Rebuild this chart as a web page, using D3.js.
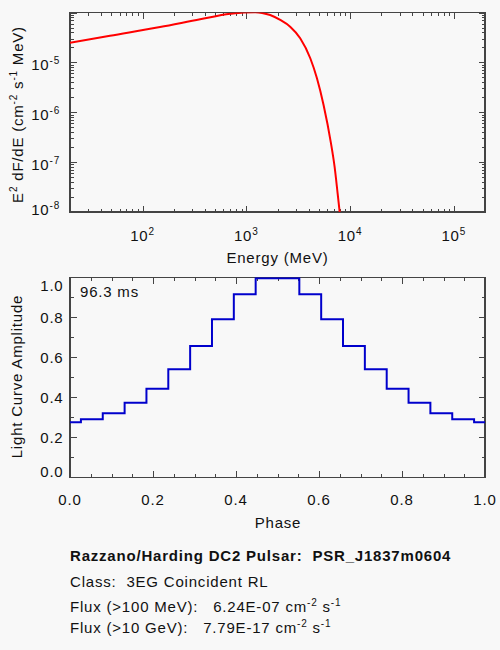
<!DOCTYPE html>
<html>
<head>
<meta charset="utf-8">
<script src="https://cdn.jsdelivr.net/npm/d3@7"></script>
<style>
  body { margin: 0; background: #f8f8f8; }
  svg { display: block; font-family: "Liberation Sans", Arial, Helvetica, sans-serif; }
  text { fill: #111; letter-spacing: 0.8px; white-space: pre; }
  .axis line { stroke: #444; }
</style>
</head>
<body>
<svg id="chart" width="500" height="650"></svg>
<script>
// spectrum (MeV, MeV cm^-2 s^-1)
var energy = [20, 48.6, 147.6, 359, 700, 950, 1220, 1420, 1700, 2125, 2650, 3310, 4140, 4800, 5560, 6550, 7100, 7590, 7950];
var e2flux = [2.48e-5, 3.43e-5, 5.1e-5, 7.3e-5, 9.4e-5, 1.0e-4, 1.01e-4, 9.8e-5, 8.9e-5, 7.08e-5, 5.19e-5,
              3.04e-5, 1.21e-5, 4.8e-6, 1.4e-6, 2.4e-7, 8.1e-8, 2.4e-8, 1.0e-8];

// light curve bins
var phase = [0, 0.0526, 0.1053, 0.1579, 0.2105, 0.2632, 0.3158, 0.3684, 0.4211, 0.4737,
             0.5263, 0.5789, 0.6316, 0.6842, 0.7368, 0.7895, 0.8421, 0.8947, 0.9474, 1.0];
var amplitude = [0.275, 0.29, 0.32, 0.373, 0.443, 0.54, 0.657, 0.79, 0.915, 0.995,
                 0.995, 0.915, 0.79, 0.657, 0.54, 0.443, 0.373, 0.32, 0.29, 0.275];

var energyLabels = [1e2, 1e3, 1e4, 1e5];
var fluxLabels = [1e-5, 1e-6, 1e-7, 1e-8];
var phaseTicks = [0, 0.2, 0.4, 0.6, 0.8, 1.0];
var ampTicks = [0, 0.2, 0.4, 0.6, 0.8, 1.0];

var period = "96.3 ms";
var title = "Razzano/Harding DC2 Pulsar:  PSR_J1837m0604";
var className = "Class:  3EG Coincident RL";
var flux100 = "6.24E-07";
var flux10g = "7.79E-17";

var svg = d3.select("#chart");

var x1 = d3.scaleLog().domain([20, 2e5]).range([70, 485]);
var y1 = d3.scaleLog().domain([1e-8, 1e-4]).range([212, 12.5]);
var x2 = d3.scaleLinear().domain([0, 1]).range([70, 485]);
var y2 = d3.scaleLinear().domain([0, 1]).range([477.3, 277.3]);

var MAJ = 6.5, MIN = 3.5;

// ticks on all four sides, pointing inwards
function frame(x, y, majX, minX, majY, minY) {
  var xr = x.range(), yr = y.range();
  var g = svg.append("g").attr("class", "axis").style("shape-rendering", "crispEdges");
  function side(axis, t, vals, size) {
    g.append("g").attr("transform", t)
      .call(axis.tickValues(vals).tickSize(-size).tickFormat(""))
      .call(a => a.select(".domain").remove());
  }
  [[minX, MIN], [majX, MAJ]].forEach(function(p) {
    side(d3.axisBottom(x), `translate(0,${yr[0]})`, p[0], p[1]);
    side(d3.axisTop(x), `translate(0,${yr[1]})`, p[0], p[1]);
  });
  [[minY, MIN], [majY, MAJ]].forEach(function(p) {
    side(d3.axisLeft(y), `translate(${xr[0]},0)`, p[0], p[1]);
    side(d3.axisRight(y), `translate(${xr[1]},0)`, p[0], p[1]);
  });
  g.append("rect")
    .attr("x", xr[0]).attr("y", yr[1])
    .attr("width", xr[1] - xr[0]).attr("height", yr[0] - yr[1])
    .attr("fill", "none").attr("stroke", "#444").attr("stroke-width", 1.2);
}

function clip(id, x, y) {
  svg.append("clipPath").attr("id", id).append("rect")
    .attr("x", x.range()[0]).attr("y", y.range()[1])
    .attr("width", x.range()[1] - x.range()[0])
    .attr("height", y.range()[0] - y.range()[1]);
}

// text with superscripts: parts = [[string, isSup], ...]
function rich(sel, parts, size) {
  var up = false;
  parts.forEach(function(p) {
    var t = sel.append("tspan").text(p[0]);
    if (p[1] && !up) { t.attr("dy", -6).attr("font-size", 10); up = true; }
    else if (p[1]) { t.attr("font-size", 10); }
    else if (up) { t.attr("dy", 6); up = false; }
  });
  return sel;
}

/***** Spectrum *****/
clip("clipTop", x1, y1);
var isMajor = v => Math.abs(Math.log10(v) - Math.round(Math.log10(v))) < 1e-6;
frame(x1, y1,
  x1.ticks().filter(isMajor), x1.ticks().filter(v => !isMajor(v)),
  y1.ticks().filter(isMajor), y1.ticks().filter(v => !isMajor(v)));

svg.append("path")
  .datum(energy.map((e, i) => [e, e2flux[i]]))
  .attr("clip-path", "url(#clipTop)")
  .attr("fill", "none")
  .attr("stroke", "#ff0000")
  .attr("stroke-width", 2)
  .attr("d", d3.line().x(d => x1(d[0])).y(d => y1(d[1])).curve(d3.curveMonotoneX));

energyLabels.forEach(function(v) {
  rich(svg.append("text")
    .attr("x", x1(v)).attr("y", 240.5)
    .attr("text-anchor", "middle").attr("font-size", 15),
    [["10", false], [String(Math.round(Math.log10(v))), true]]);
});
fluxLabels.forEach(function(v) {
  rich(svg.append("text")
    .attr("x", 60).attr("y", Math.min(y1(v) + 7.6, 215))
    .attr("text-anchor", "end").attr("font-size", 15),
    [["10", false], [String(Math.round(Math.log10(v))), true]]);
});
svg.append("text")
  .attr("x", 277.5).attr("y", 262.5)
  .attr("text-anchor", "middle").attr("font-size", 15)
  .text("Energy (MeV)");
rich(svg.append("text")
  .attr("transform", "translate(22.5,114.5) rotate(-90)")
  .attr("text-anchor", "middle").attr("font-size", 15),
  [["E", false], ["2", true], [" dF/dE (cm", false], ["-2", true], [" s", false], ["-1", true], [" MeV)", false]]);

/***** Light curve *****/
clip("clipBot", x2, y2);
frame(x2, y2,
  phaseTicks, d3.range(0, 1.0001, 0.05).filter(v => Math.abs(v * 5 - Math.round(v * 5)) > 1e-6),
  ampTicks, [0.1, 0.3, 0.5, 0.7, 0.9]);

svg.append("path")
  .datum(phase.map((p, i) => [p, amplitude[i]]))
  .attr("clip-path", "url(#clipBot)")
  .attr("fill", "none")
  .attr("stroke", "#0000cc")
  .attr("stroke-width", 2)
  .attr("d", d3.line().x(d => x2(d[0])).y(d => y2(d[1])).curve(d3.curveStep));

var fmt = d3.format(".1f");
phaseTicks.forEach(function(v) {
  svg.append("text")
    .attr("x", x2(v)).attr("y", 505)
    .attr("text-anchor", "middle").attr("font-size", 15)
    .text(fmt(v));
});
ampTicks.forEach(function(v) {
  svg.append("text")
    .attr("x", 63.5).attr("y", Math.min(Math.max(y2(v) + 5.4, 291), 477))
    .attr("text-anchor", "end").attr("font-size", 15)
    .text(fmt(v));
});
svg.append("text")
  .attr("x", 278).attr("y", 528)
  .attr("text-anchor", "middle").attr("font-size", 15)
  .text("Phase");
svg.append("text")
  .attr("transform", "translate(21.5,376.5) rotate(-90)")
  .attr("text-anchor", "middle").attr("font-size", 15)
  .text("Light Curve Amplitude");
svg.append("text")
  .attr("x", 80).attr("y", 297.3).attr("font-size", 15)
  .text(period);

/***** Info *****/
svg.append("text")
  .attr("x", 70).attr("y", 561).attr("font-size", 15).attr("font-weight", "bold")
  .text(title);
svg.append("text")
  .attr("x", 70).attr("y", 586.7).attr("font-size", 15)
  .text(className);
rich(svg.append("text").attr("x", 70).attr("y", 612.3).attr("font-size", 15),
  [["Flux (>100 MeV):   " + flux100 + " cm", false], ["-2", true], [" s", false], ["-1", true]]);
rich(svg.append("text").attr("x", 70).attr("y", 632.7).attr("font-size", 15),
  [["Flux (>10 GeV):   " + flux10g + " cm", false], ["-2", true], [" s", false], ["-1", true]]);
</script>
</body>
</html>
